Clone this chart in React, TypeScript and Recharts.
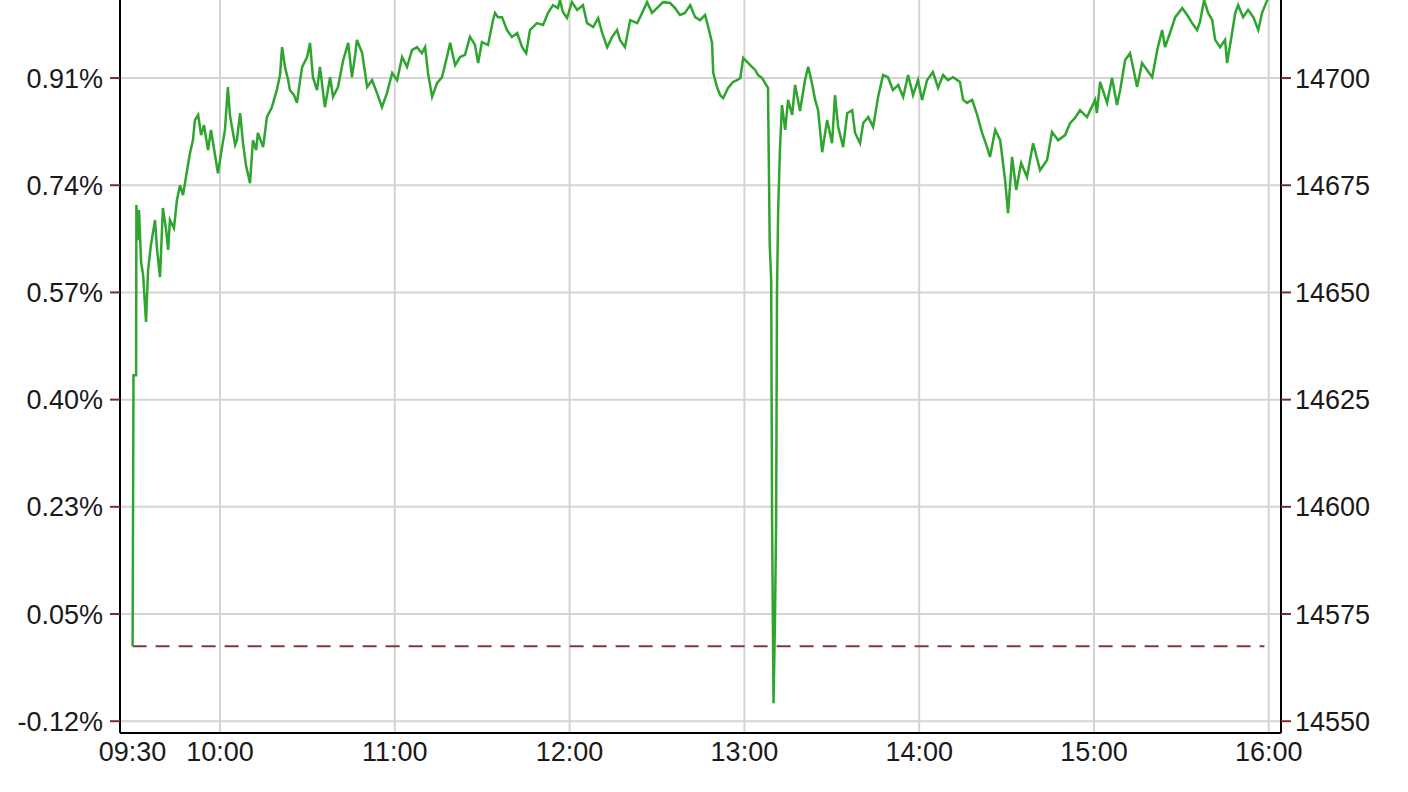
import { LineChart, Line, XAxis, YAxis, CartesianGrid, ReferenceLine } from 'recharts';

// intraday index, minutes after 09:30
const minutes = [
  0, 0.3, 1.2, 1.3, 1.9, 2.2, 2.9, 3.6, 4.6, 5.3,
  6.3, 7.7, 8.4, 9.4, 10.4, 11.5, 12.2, 12.8, 14.2, 15.2,
  16.3, 17.3, 18.7, 19.7, 20.7, 21.4, 22.5, 23.5, 24.5, 25.9,
  26.9, 28.3, 29.3, 30.7, 31.7, 32.7, 33.4, 34.1, 35.2, 35.8,
  36.9, 37.9, 38.9, 40.3, 41.3, 42.4, 43.0, 44.8, 46.1, 47.8,
  49.5, 50.6, 51.3, 52.3, 53.4, 54.0, 55.4, 56.4, 57.5, 58.2,
  59.9, 60.9, 61.9, 63.3, 64.3, 66.0, 67.8, 68.8, 70.5, 72.3,
  74.0, 75.3, 76.4, 77.0, 78.8, 80.5, 82.2, 83.9, 85.6, 87.3,
  89.1, 90.8, 92.5, 94.2, 95.9, 97.6, 99.3, 100.4, 101.4, 102.8,
  104.5, 106.2, 107.9, 109.0, 110.7, 112.4, 114.1, 115.8, 117.5, 118.6,
  119.9, 122.0, 123.7, 124.4, 125.4, 126.8, 128.5, 130.2, 132.0, 133.7,
  135.1, 136.4, 138.8, 140.9, 142.6, 144.3, 146.0, 146.7, 147.7, 149.1,
  150.8, 152.6, 154.6, 156.0, 158.1, 159.8, 161.1, 162.9, 164.6, 166.3,
  167.3, 169.0, 170.8, 173.2, 174.9, 176.6, 178.3, 180.0, 182.1, 184.5,
  186.2, 187.9, 189.6, 191.4, 193.1, 194.8, 196.5, 197.6, 198.9, 199.3,
  200.6, 201.7, 202.7, 204.4, 206.1, 207.5, 208.6, 209.6, 212.0, 213.7,
  214.7, 216.1, 217.1, 218.1, 218.7, 219.2, 219.5, 220.0, 220.5, 220.9,
  221.2, 221.6, 222.2, 222.9, 224.0, 225.0, 226.4, 227.4, 229.1, 230.8,
  231.9, 233.2, 234.3, 235.3, 236.7, 238.4, 240.1, 241.1, 242.2, 243.9,
  245.3, 247.0, 248.0, 249.7, 250.8, 252.5, 254.2, 255.9, 257.6, 259.3,
  261.0, 262.8, 264.5, 266.2, 267.9, 269.6, 271.0, 272.7, 274.7, 276.5,
  278.2, 279.9, 281.6, 284.0, 285.1, 286.4, 288.2, 289.9, 291.6, 293.3,
  294.3, 296.1, 297.8, 299.5, 300.5, 301.9, 303.3, 305.0, 307.0, 309.1,
  311.5, 313.9, 315.6, 317.7, 320.1, 321.8, 323.5, 325.2, 327.6, 330.4,
  331.0, 332.1, 334.5, 336.2, 337.9, 339.0, 340.7, 342.4, 343.4, 344.8,
  346.5, 348.2, 350.0, 351.7, 353.4, 354.4, 356.1, 357.9, 360.3, 362.0,
  363.7, 365.4, 366.4, 367.8, 369.2, 370.6, 371.6, 373.3, 375.0, 375.7,
  377.4, 378.5, 379.5, 381.2, 382.9, 384.7, 386.4, 387.7, 389.5, 390,
];

const prices = [
  14567.5, 14630.7, 14630.7, 14670.4, 14662.2, 14669.2, 14657.1, 14654.1, 14643.1, 14655.2,
  14661.1, 14666.9, 14659.9, 14653.6, 14669.7, 14664.6, 14659.9, 14666.9, 14665.0, 14671.5,
  14675.0, 14672.7, 14678.5, 14682.5, 14685.5, 14690.2, 14691.4, 14686.7, 14689.0, 14683.2,
  14687.9, 14682.0, 14677.8, 14683.9, 14687.9, 14697.9, 14691.4, 14688.6, 14684.4, 14685.5,
  14691.8, 14684.8, 14679.7, 14675.5, 14685.5, 14683.2, 14687.2, 14683.9, 14690.9, 14693.2,
  14697.2, 14700.7, 14707.2, 14702.6, 14699.5, 14697.2, 14696.0, 14694.2, 14699.5, 14702.6,
  14704.9, 14708.2, 14700.2, 14697.2, 14702.6, 14693.2, 14700.2, 14695.6, 14697.9, 14704.2,
  14708.2, 14700.2, 14705.4, 14708.9, 14705.8, 14697.9, 14699.5, 14696.5, 14693.2, 14696.5,
  14701.2, 14699.5, 14704.9, 14702.6, 14706.5, 14707.2, 14705.8, 14707.2, 14701.2, 14695.6,
  14698.8, 14700.2, 14704.9, 14708.2, 14703.0, 14704.9, 14705.4, 14709.6, 14707.8, 14703.5,
  14708.4, 14707.7, 14713.5, 14715.2, 14714.2, 14714.2, 14711.2, 14709.6, 14710.5, 14707.2,
  14705.8, 14711.2, 14712.8, 14712.4, 14715.2, 14717.0, 14716.3, 14718.2, 14715.4, 14714.0,
  14717.7, 14715.9, 14717.0, 14712.8, 14711.9, 14714.0, 14710.7, 14707.2, 14709.6, 14711.2,
  14708.9, 14707.2, 14713.5, 14712.8, 14715.2, 14717.7, 14715.2, 14716.3, 14717.7, 14717.5,
  14716.3, 14714.7, 14715.2, 14717.0, 14714.2, 14713.5, 14714.7, 14711.9, 14708.2, 14701.2,
  14697.9, 14696.0, 14695.3, 14697.7, 14699.1, 14699.5, 14700.0, 14704.7, 14703.0, 14701.9,
  14700.7, 14700.0, 14698.8, 14697.7, 14661.1, 14652.9, 14597.6, 14554.2, 14573.6, 14596.9,
  14650.6, 14669.2, 14683.2, 14693.7, 14687.9, 14694.9, 14691.4, 14698.4, 14692.3, 14699.5,
  14702.6, 14698.8, 14694.9, 14692.5, 14682.7, 14690.2, 14684.8, 14696.0, 14688.6, 14683.9,
  14691.8, 14692.5, 14687.2, 14684.8, 14689.5, 14690.9, 14688.6, 14695.6, 14700.7, 14700.2,
  14697.2, 14698.4, 14695.6, 14700.7, 14696.0, 14699.5, 14694.9, 14699.5, 14701.4, 14697.7,
  14700.7, 14699.5, 14700.2, 14699.1, 14694.9, 14694.2, 14694.9, 14691.4, 14687.2, 14683.9,
  14681.6, 14687.9, 14685.5, 14676.2, 14668.5, 14681.6, 14673.9, 14680.2, 14676.9, 14684.8,
  14678.5, 14680.9, 14687.4, 14685.5, 14686.7, 14689.5, 14690.7, 14692.5, 14690.9, 14694.9,
  14691.8, 14699.1, 14694.2, 14700.0, 14693.7, 14697.2, 14704.2, 14705.8, 14702.6, 14697.9,
  14703.5, 14701.9, 14700.2, 14706.5, 14711.2, 14707.2, 14710.5, 14714.2, 14716.3, 14714.7,
  14712.8, 14711.2, 14713.1, 14718.2, 14715.2, 14713.5, 14708.9, 14707.2, 14708.9, 14703.5,
  14710.5, 14715.2, 14717.0, 14714.2, 14715.9, 14714.2, 14711.2, 14715.2, 14718.2, 14720.0,
];

const prevClose = 14567.5;
const closeLineEnd = 388.5;

const priceTicks = [14550, 14575, 14600, 14625, 14650, 14675, 14700];
const percentLabels = ['-0.12%', '0.05%', '0.23%', '0.40%', '0.57%', '0.74%', '0.91%'];
const timeTicks = [0, 30, 90, 150, 210, 270, 330, 390];
const timeLabels = ['09:30', '10:00', '11:00', '12:00', '13:00', '14:00', '15:00', '16:00'];
const gridTimes = [30, 90, 150, 210, 270, 330, 390];

const chartData = minutes.map((m, i) => ({ m, price: prices[i] }));

// top of the plot sits above the page edge, like the cropped original
const priceDomain = [14547.25, 14725.2];
const timeDomain = [-4.33, 394.2];

const tickStyle = { fontSize: 27, fill: '#1a1a1a', fontFamily: '"Liberation Sans", Arial, sans-serif' };
const axisLine = { stroke: '#000', strokeWidth: 2 };
const tickLine = { stroke: '#7a2a2a', strokeWidth: 2 };
const gridColor = '#d4d4d4';

export default function App() {
  return (
    <div style={{ position: 'absolute', left: 0, top: -40, width: 1408, height: 830, background: '#fff' }}>
      <LineChart
        width={1408}
        height={830}
        data={chartData}
        margin={{ top: 10, right: 0, bottom: 0, left: 0 }}
      >
        <CartesianGrid yAxisId="price" vertical={false} stroke={gridColor} strokeWidth={2} />
        <XAxis
          dataKey="m"
          type="number"
          domain={timeDomain}
          allowDataOverflow
          ticks={timeTicks}
          interval={0}
          tickFormatter={(v) => timeLabels[timeTicks.indexOf(v)]}
          tick={tickStyle}
          tickLine={false}
          tickSize={0}
          tickMargin={9}
          axisLine={axisLine}
          height={57}
        />
        <YAxis
          yAxisId="pct"
          orientation="left"
          type="number"
          width={120}
          domain={priceDomain}
          allowDataOverflow
          ticks={priceTicks}
          interval={0}
          tickFormatter={(v) => percentLabels[priceTicks.indexOf(v)]}
          tick={tickStyle}
          tickLine={tickLine}
          tickSize={10}
          tickMargin={7}
          axisLine={axisLine}
        />
        <YAxis
          yAxisId="price"
          orientation="right"
          type="number"
          width={127}
          domain={priceDomain}
          allowDataOverflow
          ticks={priceTicks}
          interval={0}
          tick={tickStyle}
          tickLine={tickLine}
          tickSize={10}
          tickMargin={4}
          axisLine={axisLine}
        />
        {gridTimes.map((t) => (
          <ReferenceLine key={t} x={t} yAxisId="price" stroke={gridColor} strokeWidth={2} />
        ))}
        <ReferenceLine
          yAxisId="price"
          segment={[
            { x: 0, y: prevClose },
            { x: closeLineEnd, y: prevClose },
          ]}
          stroke="#853838"
          strokeWidth={2}
          strokeDasharray="14 9"
        />
        <Line
          yAxisId="price"
          type="linear"
          dataKey="price"
          stroke="#2ea52e"
          strokeWidth={2.5}
          dot={false}
          isAnimationActive={false}
        />
      </LineChart>
    </div>
  );
}
